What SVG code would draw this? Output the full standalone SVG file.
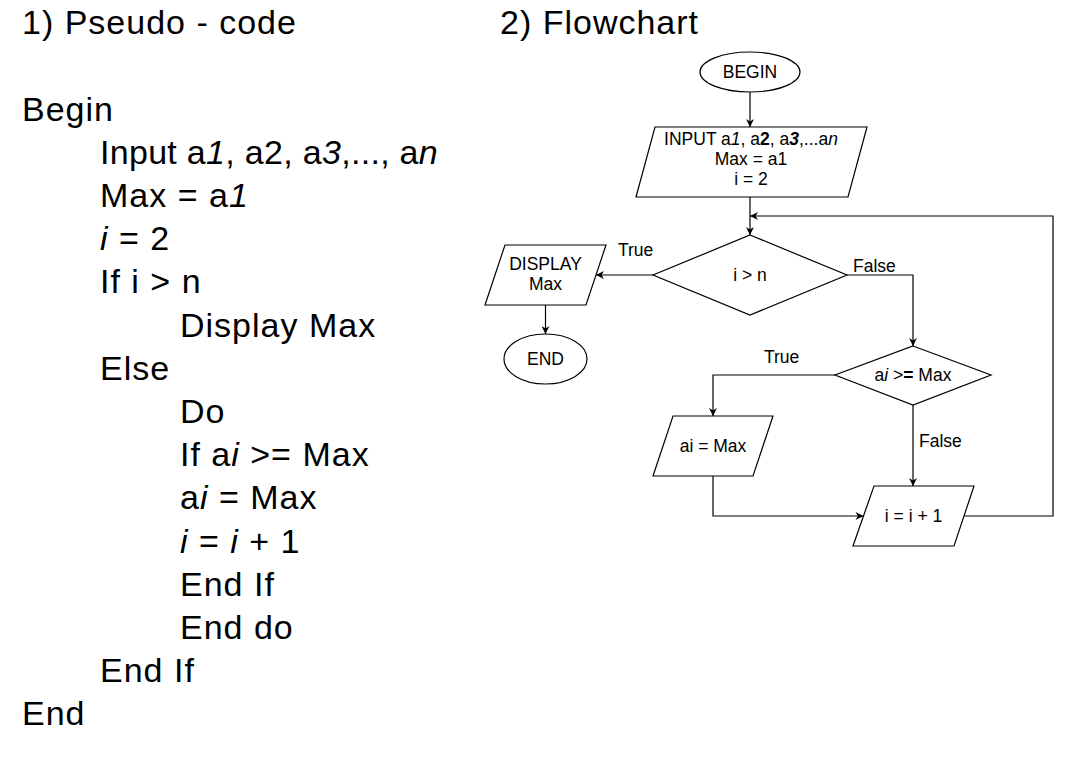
<svg xmlns="http://www.w3.org/2000/svg" width="1065" height="778" viewBox="0 0 1065 778">
<style>
.code{font-family:"Liberation Sans",Arial,sans-serif;font-size:34px;letter-spacing:1px;fill:#000}
.fc{font-family:"Liberation Sans",Arial,sans-serif;font-size:17.5px;fill:#000}
.shape{fill:#fff;stroke:#000;stroke-width:1.2}
.edge{fill:none;stroke:#000;stroke-width:1.2}
.it{font-style:italic}
.b{font-weight:bold}
</style>
<defs>
<marker id="arr" viewBox="0 0 10 10" refX="10" refY="5" markerWidth="9" markerHeight="8" markerUnits="userSpaceOnUse" orient="auto">
<path d="M0,0 L10,5 L0,10 L3,5 z" fill="#000"/>
</marker>
</defs>
<rect width="1065" height="778" fill="#fff"/>
<g id="pseudocode" class="code">
<text x="22" y="34">1) Pseudo - code</text>
<text x="22" y="120.5">Begin</text>
<text x="100" y="163.7" style="letter-spacing:0.3px">Input a<tspan class="it">1</tspan>, a2, a<tspan class="it">3</tspan>,..., a<tspan class="it">n</tspan></text>
<text x="100" y="206.9">Max = a<tspan class="it">1</tspan></text>
<text x="100" y="250.1"><tspan class="it">i</tspan> = 2</text>
<text x="100" y="293.3">If i &gt; n</text>
<text x="180" y="336.5">Display Max</text>
<text x="100" y="379.7">Else</text>
<text x="180" y="422.9">Do</text>
<text x="180" y="466.1">If a<tspan class="it">i</tspan> &gt;= Max</text>
<text x="180" y="509.3">a<tspan class="it">i</tspan> = Max</text>
<text x="180" y="552.5"><tspan class="it">i</tspan> = <tspan class="it">i</tspan> + 1</text>
<text x="180" y="595.7">End If</text>
<text x="180" y="638.9">End do</text>
<text x="100" y="682.1">End If</text>
<text x="22" y="725.3">End</text>
</g>
<text class="code" x="500" y="34">2) Flowchart</text>
<g id="connectors">
<path class="edge" d="M750,92 V127" marker-end="url(#arr)"/>
<path class="edge" d="M750,197 V235" marker-end="url(#arr)"/>
<path class="edge" d="M653,275 H596" marker-end="url(#arr)"/>
<path class="edge" d="M545.5,305 V334" marker-end="url(#arr)"/>
<path class="edge" d="M847,275 H913 V346" marker-end="url(#arr)"/>
<path class="edge" d="M835,375 H713 V416" marker-end="url(#arr)"/>
<path class="edge" d="M913,405 V486" marker-end="url(#arr)"/>
<path class="edge" d="M713,476 V516 H863.5" marker-end="url(#arr)"/>
<path class="edge" d="M964,516 H1053 V216 H750" marker-end="url(#arr)"/>
<text class="fc" x="618" y="256">True</text>
<text class="fc" x="853" y="272">False</text>
<text class="fc" x="764" y="363">True</text>
<text class="fc" x="919" y="447">False</text>
</g>
<g id="begin">
<ellipse class="shape" cx="750" cy="72" rx="50" ry="20"/>
<text class="fc" x="750" y="78" text-anchor="middle">BEGIN</text>
</g>
<g id="input">
<polygon class="shape" points="655,127 867,127 848,197 636,197"/>
<text class="fc" x="751" y="145" text-anchor="middle">INPUT a<tspan class="it">1</tspan>, a<tspan class="b">2</tspan>, a<tspan class="it b">3</tspan>,...a<tspan class="it">n</tspan></text>
<text class="fc" x="751" y="165" text-anchor="middle">Max = a1</text>
<text class="fc" x="751" y="185" text-anchor="middle">i = 2</text>
</g>
<g id="cond1">
<polygon class="shape" points="750,235 847,275 750,315 653,275"/>
<text class="fc" x="750" y="281" text-anchor="middle">i &gt; n</text>
</g>
<g id="display">
<polygon class="shape" points="505,245 606,245 586,305 485,305"/>
<text class="fc" x="545.5" y="270" text-anchor="middle">DISPLAY</text>
<text class="fc" x="545.5" y="290" text-anchor="middle">Max</text>
</g>
<g id="end">
<ellipse class="shape" cx="545.5" cy="359" rx="41.5" ry="25"/>
<text class="fc" x="545.5" y="365" text-anchor="middle">END</text>
</g>
<g id="cond2">
<polygon class="shape" points="913,346 991,375 913,405 835,375"/>
<text class="fc" x="913" y="381" text-anchor="middle">a<tspan class="it">i</tspan> &gt;<tspan class="b">=</tspan> Max</text>
</g>
<g id="assign">
<polygon class="shape" points="673,416 773,416 753,476 653,476"/>
<text class="fc" x="713" y="452" text-anchor="middle">ai = Max</text>
</g>
<g id="increment">
<polygon class="shape" points="874,486 974,486 954,546 853,546"/>
<text class="fc" x="913.5" y="522" text-anchor="middle">i = i + 1</text>
</g>
</svg>
